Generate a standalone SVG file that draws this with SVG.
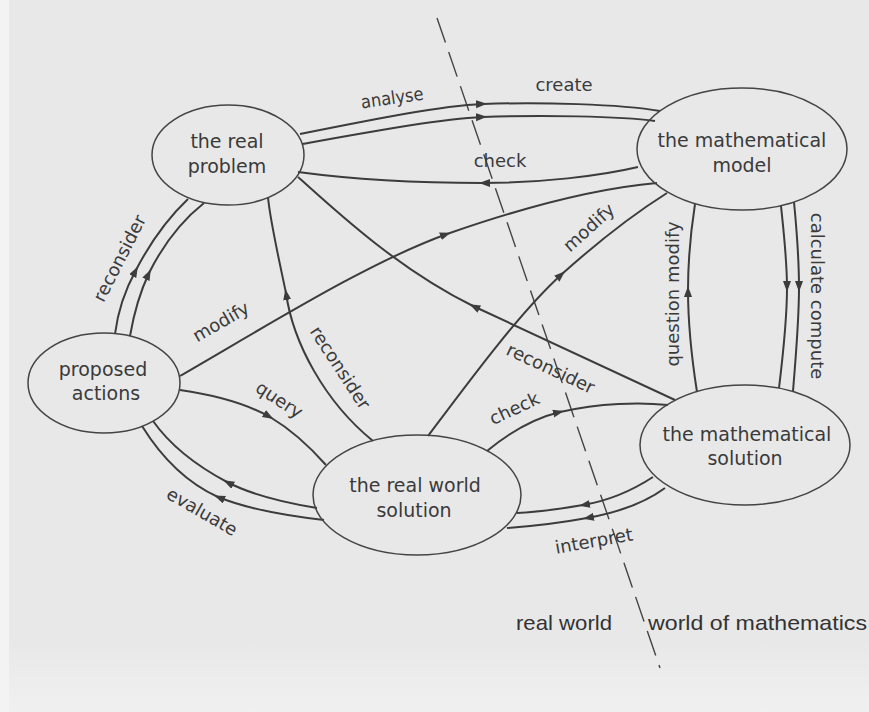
<svg xmlns="http://www.w3.org/2000/svg" width="869" height="712" viewBox="0 0 869 712">
<defs>
<style>
.bg{fill:#e8e8e8}
.node{fill:none;stroke:#444;stroke-width:1.5}
.nt{font-family:"DejaVu Sans",sans-serif;font-size:19px;fill:#3a3a3a;text-anchor:middle}
.lbl{font-family:"DejaVu Sans",sans-serif;font-size:18px;fill:#3a3a3a;text-anchor:middle}
.world{font-family:"Liberation Sans",Arial,sans-serif;font-size:21px;fill:#333}
.c{fill:none;stroke:#3c3c3c;stroke-width:2;marker-mid:url(#arr)}
.div{fill:none;stroke:#444;stroke-width:1.4;stroke-dasharray:26 10}
</style>
<linearGradient id="fade" x1="0" y1="0" x2="0" y2="1">
<stop offset="0" stop-color="#e8e8e8"/>
<stop offset="1" stop-color="#f0f0f0"/>
</linearGradient>
<marker id="arr" markerUnits="userSpaceOnUse" markerWidth="12" markerHeight="9" refX="7" refY="4" orient="auto">
<path d="M0,0 L11,4 L0,8 z" fill="#3c3c3c"/>
</marker>
</defs>
<rect class="bg" x="0" y="0" width="869" height="712"/>
<rect x="0" y="640" width="869" height="72" fill="url(#fade)"/>
<rect x="0" y="0" width="9" height="712" fill="#f3f3f3"/>

<g id="divider">
<line class="div" x1="437" y1="18" x2="660" y2="668"/>
</g>

<g id="connectors">
<g id="analyse-create">
<path class="c" d="M300,134 C380,118 440,106 483,104 C540,102 620,104 660,111"/>
<path class="c" d="M302,144 C380,130 440,119 483,117 C540,115 620,116 655,121"/>
<text class="lbl" transform="translate(393,104) rotate(-8)" textLength="63" lengthAdjust="spacingAndGlyphs">analyse</text>
<text class="lbl" x="564" y="91">create</text>
</g>
<g id="check-top">
<path class="c" d="M638,167 C600,176 540,183 483,183 C420,183 350,179 298,172"/>
<text class="lbl" x="500" y="167">check</text>
</g>
<g id="modify-left">
<path class="c" d="M180,376 C280,318 370,262 447,234 C530,205 600,188 657,183"/>
<text class="lbl" transform="translate(224,327) rotate(-30)">modify</text>
</g>
<g id="reconsider-right">
<path class="c" d="M675,400 C600,365 530,333 473,306 C400,270 340,215 298,177"/>
<text class="lbl" transform="translate(548,374) rotate(25)">reconsider</text>
</g>
<g id="modify-right">
<path class="c" d="M428,436 C470,380 520,312 562,274 C600,240 640,210 667,193"/>
<text class="lbl" transform="translate(593,232) rotate(-42)">modify</text>
</g>
<g id="reconsider-mid">
<path class="c" d="M373,441 C325,402 293,343 286,293 C278,255 270,220 268,197"/>
<text class="lbl" transform="translate(335,371) rotate(57)">reconsider</text>
</g>
<g id="query">
<path class="c" d="M180,390 C215,395 245,403 270,417 C292,430 310,447 326,465"/>
<text class="lbl" transform="translate(276,405) rotate(33)">query</text>
</g>
<g id="evaluate">
<path class="c" d="M317,508 C280,502 250,494 227,482 C195,465 170,445 153,421"/>
<path class="c" d="M324,520 C280,515 245,508 218,497 C185,482 160,455 142,426"/>
<text class="lbl" transform="translate(199,517) rotate(30)">evaluate</text>
</g>
<g id="reconsider-left">
<path class="c" d="M115,334 C118,310 125,290 136,270 C150,243 168,218 188,199"/>
<path class="c" d="M130,336 C134,313 140,292 149,273 C162,247 180,222 204,203"/>
<text class="lbl" transform="translate(125,261) rotate(-63)">reconsider</text>
</g>
<g id="check-bottom">
<path class="c" d="M487,451 C510,432 535,418 560,412 C600,403 640,402 668,405"/>
<text class="lbl" transform="translate(517,414) rotate(-25)">check</text>
</g>
<g id="interpret">
<path class="c" d="M653,477 C630,492 607,501 583,505 C560,509 540,512 517,513"/>
<path class="c" d="M665,488 C642,505 615,513 587,518 C560,523 535,526 507,528"/>
<text class="lbl" transform="translate(595,547) rotate(-10)">interpret</text>
</g>
<g id="question-modify">
<path class="c" d="M697,392 C692,360 688,320 688,290 C688,260 691,230 695,204"/>
<text class="lbl" transform="translate(679,294) rotate(-90)">question modify</text>
</g>
<g id="calculate-compute">
<path class="c" d="M781,206 C784,235 787,260 787,288 C787,320 783,355 779,388"/>
<path class="c" d="M794,202 C797,233 799,260 799,288 C799,320 796,355 793,391"/>
<text class="lbl" transform="translate(811,296) rotate(90)">calculate compute</text>
</g>
</g>

<g id="real-problem">
<ellipse class="node" cx="228" cy="155" rx="76" ry="50"/>
<text class="nt" x="227" y="148">the real</text>
<text class="nt" x="227" y="173">problem</text>
</g>
<g id="math-model">
<ellipse class="node" cx="742" cy="149" rx="105" ry="61"/>
<text class="nt" x="742" y="147">the mathematical</text>
<text class="nt" x="742" y="172">model</text>
</g>
<g id="proposed-actions">
<ellipse class="node" cx="104" cy="383" rx="76" ry="50"/>
<text class="nt" x="103" y="376">proposed</text>
<text class="nt" x="106" y="400">actions</text>
</g>
<g id="real-world-solution">
<ellipse class="node" cx="417" cy="495" rx="104" ry="60"/>
<text class="nt" x="415" y="492">the real world</text>
<text class="nt" x="414" y="517">solution</text>
</g>
<g id="math-solution">
<ellipse class="node" cx="745" cy="445" rx="105" ry="60"/>
<text class="nt" x="747" y="441">the mathematical</text>
<text class="nt" x="745" y="465">solution</text>
</g>

<g id="worlds">
<text class="world" x="516" y="630" textLength="96" lengthAdjust="spacingAndGlyphs">real world</text>
<text class="world" x="648" y="630" textLength="219" lengthAdjust="spacingAndGlyphs">world of mathematics</text>
</g>
</svg>
